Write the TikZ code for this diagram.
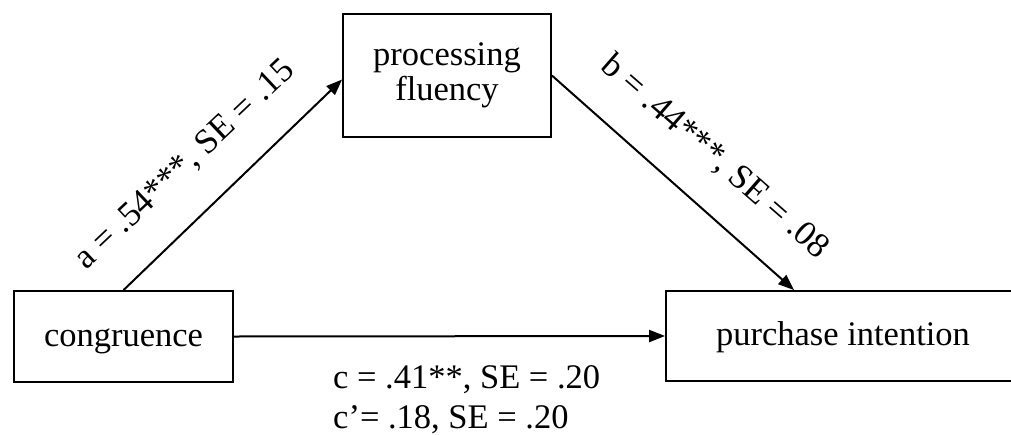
\documentclass[tikz,border=0pt]{standalone}
\usepackage{fontspec}
\setmainfont{Liberation Serif}
\usetikzlibrary{arrows.meta,calc}
\begin{document}
\begin{tikzpicture}[x=1pt,y=-1pt,
  box/.style={draw,line width=1.8pt,inner sep=0pt,font=\fontsize{34.5}{35}\selectfont,align=center},
  single/.style={text height=25.9pt,text depth=6.9pt},
  conn/.style={line width=2pt,-{Triangle[length=16pt,width=12pt]}},
  lbl/.style={font=\fontsize{35}{36}\selectfont,inner sep=0pt},
  note/.style={font=\fontsize{34.5}{36}\selectfont,inner sep=0pt,anchor=base west}]
\useasboundingbox (0,0) rectangle (1011,434);
\clip (0,0) rectangle (1011,434);
\node[box,single,minimum width=219pt,minimum height=91pt] (cong) at (123.5,336.5) {congruence};
\node[box,minimum width=208pt,minimum height=123pt] (proc) at (447,75.5) {processing\\fluency};
\node[box,single,minimum width=354pt,minimum height=90pt] (pur) at (843,336) {purchase intention};
\coordinate (aend) at ($(proc.west)+(0,4)$);
\coordinate (bend) at ($(pur.north west)+(129,0)$);
\draw[conn] (cong.north) -- (aend);
\draw[conn] (proc.east) -- (bend);
\draw[conn] (cong.east) -- (pur.west);
\node[lbl,rotate=43.4] (la) at (185,165) {a = .54***, SE = .15};
\node[lbl,rotate=-41.1] (lb) at (715,157) {b = .44***, SE = .08};
\node[note] (c1) at (333,388) {c = .41**, SE = .20};
\node[note] (c2) at (333,428) {c’= .18, SE = .20};
\end{tikzpicture}
\end{document}
